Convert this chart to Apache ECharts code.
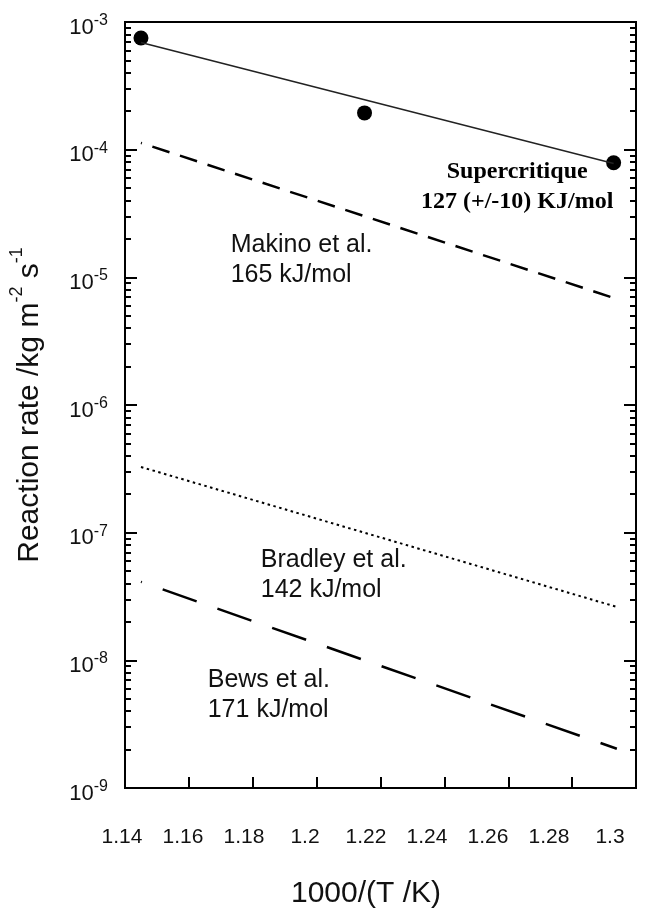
<!DOCTYPE html>
<html>
<head>
<meta charset="utf-8">
<script src="https://cdn.jsdelivr.net/npm/echarts@6/dist/echarts.min.js"></script>
<style>
  html, body { margin: 0; padding: 0; background: #fff; }
  #chart { width: 653px; height: 917px; }
</style>
</head>
<body>
<div id="chart"></div>
<script>
// decade ticks of the log axis, and the minor multipliers in between
const decades = [1e-9, 1e-8, 1e-7, 1e-6, 1e-5, 1e-4, 1e-3]
const minorSteps = [2, 3, 4, 5, 6, 7, 8, 9]

// [1000/T, rate]
const supercritPoints = [[1.145, 7.5e-4], [1.215, 1.94e-4], [1.293, 7.9e-5]]
const supercritFit = [[1.145, 6.9e-4], [1.293, 7.8e-5]]
const makino = [[1.145, 1.13e-4], [1.293, 6.9e-6]]
const bradley = [[1.145, 3.27e-7], [1.294, 2.62e-8]]
const bews = [[1.145, 4.12e-8], [1.294, 2.03e-9]]

// annotation text anchored at data coordinates
const notes = [
  ['Makino et al.\n165 kJ/mol', 1.1731, 1.37e-5],
  ['Bradley et al.\n142 kJ/mol', 1.1825, 4.63e-8],
  ['Bews et al.\n171 kJ/mol', 1.1659, 5.37e-9],
]
const supercritNote = [['Supercritique\n127 (+/-10) KJ/mol', 1.2628, 5.1e-5]]

const minorTicks = decades.slice(0, -1).flatMap(d => minorSteps.map(m => m * d))

const ink = '#111'
const sans = 'Liberation Sans, Arial, sans-serif'
const serif = 'Liberation Serif, Times New Roman, serif'

const chart = echarts.init(document.getElementById('chart'))

function logAxis(position, extra) {
  return Object.assign({
    type: 'log',
    position,
    gridIndex: 0,
    min: 1e-9,
    max: 1e-3,
    axisLine: { show: false },
    splitLine: { show: false },
    minorTick: { show: false },
  }, extra)
}

const option = {
  animation: false,
  backgroundColor: '#fff',
  grid: [
    { left: 124, right: 17, top: 22, bottom: 129, show: true, borderColor: '#000', borderWidth: 2 },
    // labels of the x axis sit on a slightly narrower scale in the original
    { left: 122, right: 43, top: 22, bottom: 129, show: false },
  ],
  xAxis: [
    {
      type: 'value',
      gridIndex: 0,
      min: 1.14,
      max: 1.3,
      interval: 0.02,
      axisLine: { show: false },
      splitLine: { show: false },
      axisTick: { inside: true, length: 11, lineStyle: { color: '#000', width: 2 } },
      axisLabel: { show: false },
    },
    {
      type: 'value',
      gridIndex: 1,
      min: 1.14,
      max: 1.3,
      interval: 0.02,
      axisLine: { show: false },
      splitLine: { show: false },
      axisTick: { show: false },
      axisLabel: { margin: 39, fontSize: 21, color: ink, fontFamily: sans },
      name: '1000/(T /K)',
      nameLocation: 'middle',
      nameGap: 91,
      nameTextStyle: { fontSize: 30, color: ink, fontFamily: sans },
    },
  ],
  yAxis: [
    logAxis('left', {
      axisTick: { inside: true, length: 12, customValues: decades, lineStyle: { color: '#000', width: 2 } },
      axisLabel: {
        customValues: decades,
        margin: 17,
        padding: [7, 0, 0, 0],
        formatter: v => '{n|10}{s|' + Math.round(Math.log10(v)) + '}',
        rich: {
          n: { fontSize: 22, color: ink, fontFamily: sans, padding: [4, 0, 0, 0], verticalAlign: 'bottom' },
          s: { fontSize: 16, color: ink, fontFamily: sans, verticalAlign: 'top' },
        },
      },
      name: '{n|Reaction rate /kg m}{s|-2}{n| s}{s|-1}',
      nameLocation: 'middle',
      nameGap: 80,
      nameTextStyle: {
        rich: {
          n: { fontSize: 30, color: ink, fontFamily: sans, padding: [7, 0, 0, 0], verticalAlign: 'bottom' },
          s: { fontSize: 18, color: ink, fontFamily: sans, verticalAlign: 'top' },
        },
      },
    }),
    logAxis('left', {
      axisTick: { inside: true, length: 6, customValues: minorTicks, lineStyle: { color: '#000', width: 2 } },
      axisLabel: { show: false },
    }),
    logAxis('right', {
      axisTick: { inside: true, length: 12, customValues: decades, lineStyle: { color: '#000', width: 2 } },
      axisLabel: { show: false },
    }),
    logAxis('right', {
      axisTick: { inside: true, length: 6, customValues: minorTicks, lineStyle: { color: '#000', width: 2 } },
      axisLabel: { show: false },
    }),
    { type: 'value', gridIndex: 1, show: false },
  ],
  series: [
    {
      name: 'Supercritique fit',
      type: 'line',
      data: supercritFit,
      symbol: 'none',
      lineStyle: { color: '#222', width: 1.5 },
    },
    {
      name: 'Supercritique',
      type: 'scatter',
      data: supercritPoints,
      symbolSize: 15,
      itemStyle: { color: '#000', opacity: 1 },
    },
    {
      name: 'Makino et al.',
      type: 'line',
      data: makino,
      symbol: 'none',
      lineStyle: { color: '#000', width: 2.5, type: [18, 11], dashOffset: 17 },
    },
    {
      name: 'Bradley et al.',
      type: 'line',
      data: bradley,
      symbol: 'none',
      lineStyle: { color: '#000', width: 2, type: [2.5, 3.5] },
    },
    {
      name: 'Bews et al.',
      type: 'line',
      data: bews,
      symbol: 'none',
      lineStyle: { color: '#000', width: 2.5, type: [36, 22], dashOffset: 35 },
    },
    {
      name: 'notes',
      type: 'scatter',
      data: notes.map(n => ({ name: n[0], value: [n[1], n[2]] })),
      symbolSize: 0,
      silent: true,
      itemStyle: { opacity: 1 },
      label: {
        show: true,
        position: [0, 0],
        align: 'left',
        verticalAlign: 'middle',
        formatter: '{b}',
        fontSize: 25,
        lineHeight: 30,
        color: ink,
        fontFamily: sans,
      },
    },
    {
      name: 'supercritique note',
      type: 'scatter',
      data: supercritNote.map(n => ({ name: n[0], value: [n[1], n[2]] })),
      symbolSize: 0,
      silent: true,
      itemStyle: { opacity: 1 },
      label: {
        show: true,
        position: [0, 0],
        align: 'center',
        verticalAlign: 'middle',
        formatter: '{b}',
        fontSize: 24,
        fontWeight: 'bold',
        lineHeight: 30,
        color: '#000',
        fontFamily: serif,
      },
    },
  ],
}

chart.setOption(option)
</script>
</body>
</html>
